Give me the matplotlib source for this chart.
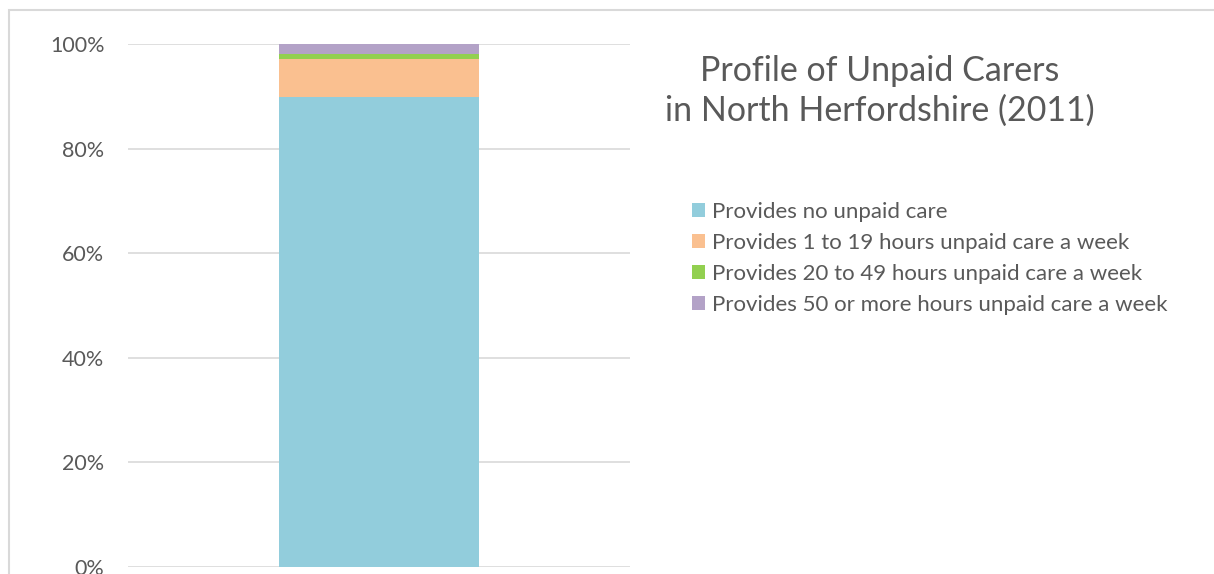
import matplotlib
matplotlib.use("Agg")
import matplotlib.pyplot as plt
from matplotlib.patches import Rectangle, Patch
from matplotlib.ticker import FuncFormatter, MultipleLocator

plt.rcParams['font.family'] = ['Lato', 'DejaVu Sans']

categories = ["North Herfordshire"]
series_names = [
    "Provides no unpaid care",
    "Provides 1 to 19 hours unpaid care a week",
    "Provides 20 to 49 hours unpaid care a week",
    "Provides 50 or more hours unpaid care a week",
]
series_values = [89.8, 7.3, 1.0, 1.9]
colors = ["#92CDDC", "#FAC090", "#92D050", "#B3A2C7"]
title = "Profile of Unpaid Carers\nin North Herfordshire (2011)"

W, H = 1214, 574
fig = plt.figure(figsize=(W / 100, H / 100), dpi=100)
ax = fig.add_axes([128 / W, 1 - 567 / H, (630 - 128) / W, (567 - 44) / H])

bottom = 0.0
for name, val, col in zip(series_names, series_values, colors):
    ax.bar([0], [val], bottom=bottom, width=0.4, color=col, label=name, zorder=3)
    bottom += val

ax.set_xlim(-0.5, 0.5)
ax.set_ylim(0, 100)
ax.yaxis.set_major_locator(MultipleLocator(20))
ax.yaxis.set_major_formatter(FuncFormatter(lambda v, p: f"{v:.0f}%"))
ax.set_xticks([])
ax.grid(axis='y', color='#D9D9D9', linewidth=1.2, zorder=0)
for s in ax.spines.values():
    s.set_visible(False)
ax.tick_params(axis='y', length=0, pad=17, labelsize=15.5, labelcolor='#595959')
for lbl in ax.get_yticklabels():
    lbl.set_clip_on(False)

# chart border
border = Rectangle((9 / W, -0.1), 1.5, 1 - 10 / H + 0.1, transform=fig.transFigure,
                   fill=False, edgecolor='#D9D9D9', linewidth=1.5, zorder=0)
fig.patches.append(border)

fig.text(880 / W, 1 - 91 / H, title, ha='center', va='center', fontsize=24.5,
         color='#595959', linespacing=1.3)

handles = [Patch(facecolor=c, edgecolor='none', label=n) for n, c in zip(series_names, colors)]
fig.legend(handles=handles, loc='upper left', bbox_to_anchor=(683 / W, 1 - 193 / H),
           frameon=False, fontsize=16, labelcolor='#595959', handlelength=0.6,
           handleheight=0.6, handletextpad=0.3, labelspacing=0.5, borderaxespad=0)

fig.savefig("out.png", dpi=100)
